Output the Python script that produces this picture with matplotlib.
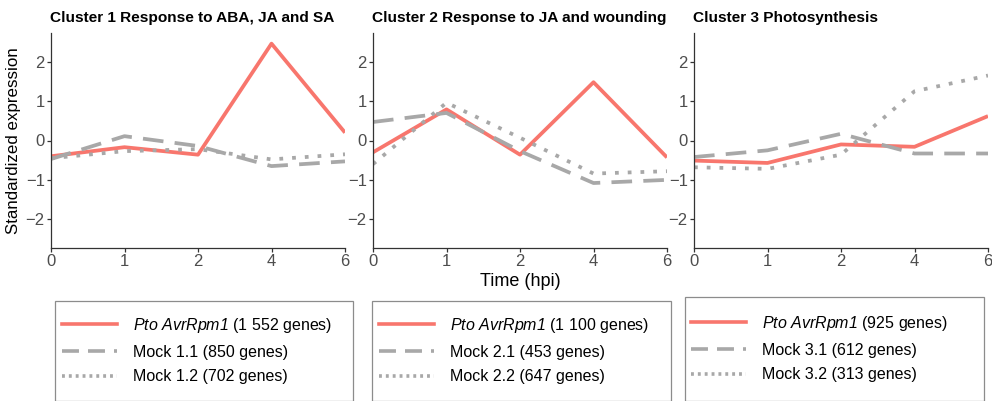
import matplotlib
matplotlib.use("Agg")
import matplotlib.pyplot as plt
from matplotlib.lines import Line2D
from matplotlib.patches import Rectangle

plt.rcParams['font.family'] = ['Liberation Sans', 'DejaVu Sans']
# la parte en cursiva de la leyenda va en mathtext, digitos incluidos
plt.rcParams['mathtext.fontset'] = 'custom'
plt.rcParams['mathtext.rm'] = 'Liberation Sans:italic'
plt.rcParams['mathtext.it'] = 'Liberation Sans:italic'
plt.rcParams['mathtext.default'] = 'it'

# tiempos de muestreo (hpi), equiespaciados en el eje
tiempos = ['0', '1', '2', '4', '6']

titulos = ['Cluster 1 Response to ABA, JA and SA',
           'Cluster 2 Response to JA and wounding',
           'Cluster 3 Photosynthesis']

# expresion estandarizada por cluster
pto = [[-0.40, -0.17, -0.36, 2.46, 0.20],
       [-0.30, 0.79, -0.36, 1.48, -0.43],
       [-0.51, -0.57, -0.10, -0.16, 0.62]]
mock_a = [[-0.47, 0.11, -0.14, -0.65, -0.53],
          [0.47, 0.70, -0.27, -1.08, -1.00],
          [-0.42, -0.25, 0.17, -0.33, -0.33]]
mock_b = [[-0.45, -0.27, -0.22, -0.48, -0.35],
          [-0.60, 0.96, 0.07, -0.84, -0.78],
          [-0.68, -0.72, -0.36, 1.25, 1.65]]

etiquetas = [
    [r'$Pto\ AvrRpm1$ (1 552 genes)', 'Mock 1.1 (850 genes)', 'Mock 1.2 (702 genes)'],
    [r'$Pto\ AvrRpm1$ (1 100 genes)', 'Mock 2.1 (453 genes)', 'Mock 2.2 (647 genes)'],
    [r'$Pto\ AvrRpm1$ (925 genes)', 'Mock 3.1 (612 genes)', 'Mock 3.2 (313 genes)'],
]

ROJO = '#F8766D'
GRIS = '#A8A8A8'
DASH = (0, (5.5, 3))
DOT = (0, (1, 2.4))

W, H = 992, 401
fig = plt.figure(figsize=(W / 100, H / 100), dpi=100)

izq = [51, 373, 694]
cajas = [(55, 301, 298), (372, 301, 299), (685, 297, 299)]
anclas = [(62, 316), (379, 316), (691, 314)]
x = list(range(len(tiempos)))

for i in range(3):
    ax = fig.add_axes([izq[i] / W, (H - 248) / H, 294 / W, 215 / H])
    ax.plot(x, pto[i], color=ROJO, lw=2.7, solid_capstyle='butt')
    ax.plot(x, mock_a[i], color=GRIS, lw=2.7, linestyle=DASH)
    ax.plot(x, mock_b[i], color=GRIS, lw=2.7, linestyle=DOT)
    ax.set_xlim(0, 4)
    ax.set_ylim(-2.73, 2.73)
    ax.set_xticks(x)
    ax.set_xticklabels(tiempos)
    ax.set_yticks([-2, -1, 0, 1, 2])
    for s in ['top', 'right']:
        ax.spines[s].set_visible(False)
    for s in ['left', 'bottom']:
        ax.spines[s].set_color('#333333')
        ax.spines[s].set_linewidth(0.9)
    ax.tick_params(colors='#333333', labelcolor='#4D4D4D', labelsize=12,
                   length=3, width=0.9, pad=1.5)
    ax.set_title(titulos[i], loc='left', fontsize=11.1, fontweight='bold',
                 pad=8, x=-0.005)
    if i == 0:
        ax.set_ylabel('Standardized expression', fontsize=12.2, labelpad=3)
    if i == 1:
        ax.set_xlabel('Time (hpi)', fontsize=13, labelpad=3)

    # recuadro de la leyenda
    bx, by, bw = cajas[i]
    fig.patches.append(Rectangle((bx / W, 0), bw / W, (H - by) / H,
                                 transform=fig.transFigure, fill=False,
                                 edgecolor='#8C8C8C', lw=0.9))
    manejadores = [Line2D([], [], color=ROJO, lw=2.6),
                   Line2D([], [], color=GRIS, lw=2.6, linestyle=(0, (4.7, 2.5))),
                   Line2D([], [], color=GRIS, lw=2.6, linestyle=(0, (0.8, 1.1)))]
    ax_x, ax_y = anclas[i]
    fig.legend(manejadores, etiquetas[i], loc='upper left',
               bbox_to_anchor=(ax_x / W, 1 - ax_y / H), frameon=False,
               fontsize=11.5, borderpad=0, borderaxespad=0, handlelength=3.45,
               handletextpad=1.0, labelspacing=0.6)

fig.savefig('out.png', dpi=100)
